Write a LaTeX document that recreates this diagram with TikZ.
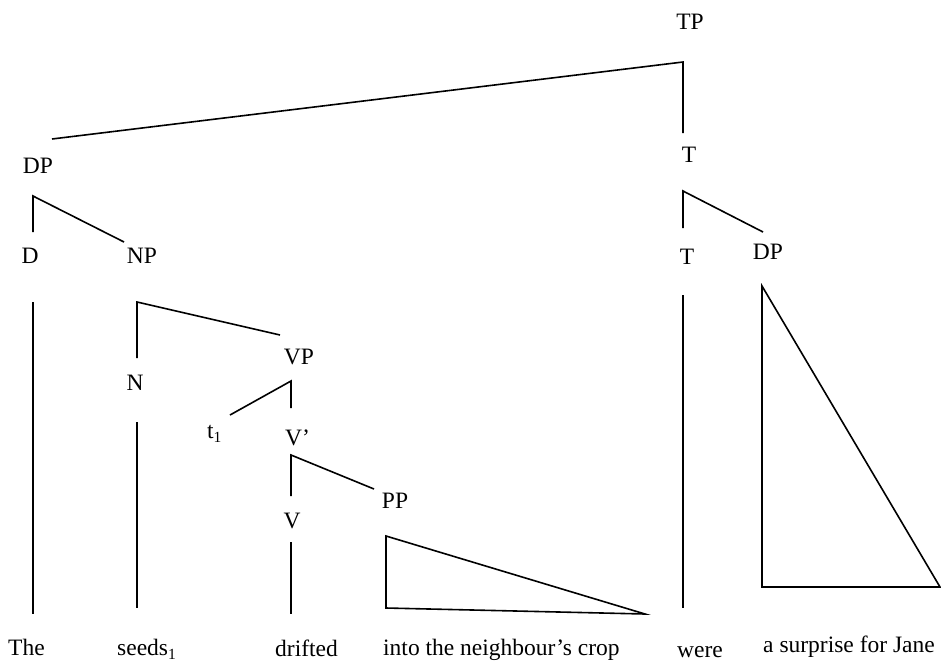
\documentclass[tikz,border=0pt]{standalone}
\usepackage{fontspec}
\setmainfont{Liberation Serif}
\newcommand{\subone}{\raisebox{-4pt}{\fontsize{15.5}{18}\selectfont 1}}
\begin{document}
\begin{tikzpicture}[x=1pt,y=-1pt,
  lbl/.style={inner sep=0pt,anchor=base,font=\fontsize{23.5}{28}\selectfont},
  lblw/.style={lbl,anchor=base west},
  branch/.style={line width=1.6pt,line cap=butt,line join=miter}]
\useasboundingbox (0,0) rectangle (941,664);
% labels
\node[lbl] (TP) at (690,29) {TP};
\node[lbl] (Tbar) at (689,162) {T};
\node[lbl] (T) at (687,264) {T};
\node[lbl] (DPr) at (768,259) {DP};
\node[lbl] (DPl) at (38,173) {DP};
\node[lbl] (D) at (30,263) {D};
\node[lbl] (NP) at (142,263) {NP};
\node[lbl] (N) at (135,390) {N};
\node[lbl] (VP) at (299,364) {VP};
\node[lblw] (t1) at (207,438) {t\subone};
\node[lblw] (Vbar) at (285,445) {V’};
\node[lbl] (V) at (292,528) {V};
\node[lbl] (PP) at (395,508) {PP};
% words
\node[lblw] (w1) at (8,655) {The};
\node[lblw] (w2) at (117,655) {seeds\subone};
\node[lblw] (w3) at (275,656) {drifted};
\node[lblw] (w4) at (383,655) {into the neighbour’s crop};
\node[lbl] (w5) at (700,657) {were};
\node[lbl] (w6) at (849,652) {a surprise for Jane};
% branch points
\coordinate (tpA) at (683,62);
\coordinate (tpL) at (52,139);
\coordinate (tpR) at (683,133);
\coordinate (tbA) at (683,191);
\coordinate (tbL) at (683,228);
\coordinate (tbR) at (763,232);
\coordinate (tT) at (683,295);
\coordinate (tB) at (683,608);
\coordinate (dpT) at (762,286);
\coordinate (dpBL) at (762,587);
\coordinate (dpBR) at (940,587);
\coordinate (dA) at (33,196);
\coordinate (dL) at (33,232);
\coordinate (dR) at (124,242);
\coordinate (dT) at (33,302);
\coordinate (dB) at (33,614);
\coordinate (nA) at (137,302);
\coordinate (nL) at (137,358);
\coordinate (nR) at (280,335);
\coordinate (nT) at (137,422);
\coordinate (nB) at (137,608);
\coordinate (vpA) at (291,381);
\coordinate (vpR) at (291,408);
\coordinate (vpL) at (230,415);
\coordinate (vbA) at (291,455);
\coordinate (vbL) at (291,496);
\coordinate (vbR) at (374,489);
\coordinate (vT) at (291,542);
\coordinate (vB) at (291,614);
\coordinate (ppT) at (386,536);
\coordinate (ppBL) at (386,608);
\coordinate (ppBR) at (645,614);
% lines
\draw[branch] (tpL) -- (tpA) -- (tpR);
\draw[branch] (tbR) -- (tbA) -- (tbL);
\draw[branch] (tT) -- (tB);
\draw[branch] (dpT) -- (dpBL) -- (dpBR) -- cycle;
\draw[branch] (dR) -- (dA) -- (dL);
\draw[branch] (dT) -- (dB);
\draw[branch] (nR) -- (nA) -- (nL);
\draw[branch] (nT) -- (nB);
\draw[branch] (vpL) -- (vpA) -- (vpR);
\draw[branch] (vbR) -- (vbA) -- (vbL);
\draw[branch] (vT) -- (vB);
\draw[branch] (ppT) -- (ppBL) -- (ppBR) -- cycle;
\end{tikzpicture}
\end{document}
